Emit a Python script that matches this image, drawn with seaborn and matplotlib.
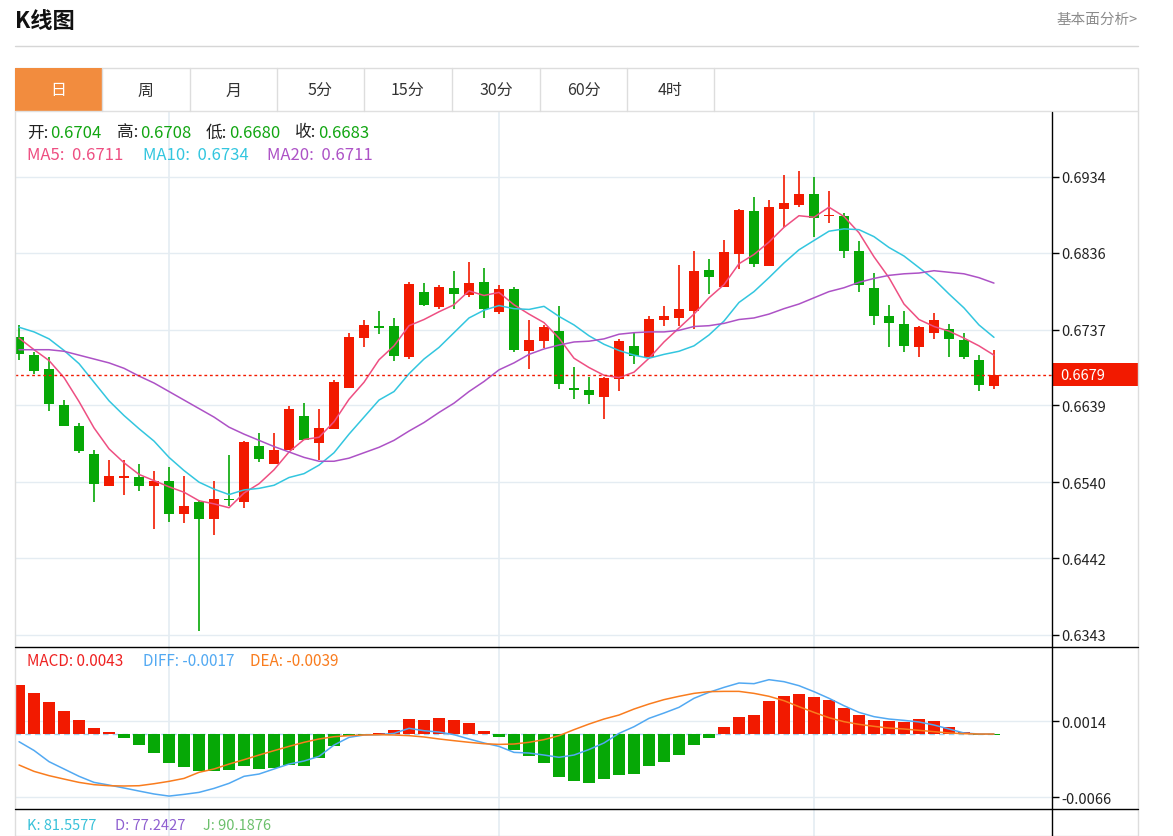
import numpy as np
import pandas as pd
import matplotlib
matplotlib.use("Agg")
import matplotlib.pyplot as plt
import matplotlib.transforms as mtransforms
from matplotlib.lines import Line2D
from matplotlib.patches import Rectangle
import seaborn as sns

# 日K数据
opens = [0.6727, 0.6704, 0.6686, 0.6640, 0.6613, 0.6576, 0.6535, 0.6545, 0.6547, 0.6535,
         0.6542, 0.6499, 0.6515, 0.6492, 0.6518, 0.6514, 0.6587, 0.6564, 0.6582, 0.6626,
         0.6591, 0.6608, 0.6661, 0.6726, 0.6742, 0.6741, 0.6701, 0.6786, 0.6766, 0.6791,
         0.6781, 0.6798, 0.6760, 0.6789, 0.6709, 0.6722, 0.6735, 0.6662, 0.6659, 0.6650,
         0.6673, 0.6716, 0.6701, 0.6749, 0.6752, 0.6761, 0.6814, 0.6792, 0.6835, 0.6890,
         0.6819, 0.6893, 0.6898, 0.6912, 0.6883, 0.6884, 0.6838, 0.6791, 0.6755, 0.6744,
         0.6714, 0.6733, 0.6738, 0.6724, 0.6698, 0.6664]
highs = [0.6743, 0.6708, 0.6701, 0.6646, 0.6616, 0.6582, 0.6569, 0.6568, 0.6563, 0.6555,
         0.6560, 0.6548, 0.6517, 0.6541, 0.6575, 0.6593, 0.6604, 0.6604, 0.6638, 0.6642,
         0.6634, 0.6672, 0.6733, 0.6749, 0.6761, 0.6752, 0.6798, 0.6797, 0.6795, 0.6813,
         0.6824, 0.6817, 0.6794, 0.6792, 0.6749, 0.6743, 0.6767, 0.6689, 0.6676, 0.6676,
         0.6725, 0.6732, 0.6754, 0.6768, 0.6821, 0.6838, 0.6828, 0.6853, 0.6893, 0.6908,
         0.6904, 0.6937, 0.6942, 0.6934, 0.6916, 0.6888, 0.6851, 0.6810, 0.6769, 0.6761,
         0.6742, 0.6759, 0.6744, 0.6732, 0.6704, 0.6710]
lows = [0.6698, 0.6680, 0.6632, 0.6612, 0.6578, 0.6514, 0.6535, 0.6524, 0.6529, 0.6480,
        0.6489, 0.6487, 0.6348, 0.6472, 0.6509, 0.6507, 0.6566, 0.6564, 0.6582, 0.6595,
        0.6568, 0.6608, 0.6661, 0.6714, 0.6731, 0.6697, 0.6699, 0.6767, 0.6763, 0.6764,
        0.6779, 0.6752, 0.6757, 0.6708, 0.6686, 0.6713, 0.6660, 0.6648, 0.6641, 0.6622,
        0.6658, 0.6693, 0.6701, 0.6742, 0.6742, 0.6738, 0.6783, 0.6792, 0.6815, 0.6818,
        0.6819, 0.6869, 0.6895, 0.6857, 0.6875, 0.6830, 0.6786, 0.6743, 0.6715, 0.6708,
        0.6701, 0.6725, 0.6702, 0.6699, 0.6658, 0.6660]
closes = [0.6705, 0.6683, 0.6641, 0.6613, 0.6580, 0.6537, 0.6548, 0.6548, 0.6535, 0.6542,
          0.6499, 0.6509, 0.6493, 0.6518, 0.6517, 0.6592, 0.6570, 0.6582, 0.6634, 0.6595,
          0.6610, 0.6669, 0.6728, 0.6743, 0.6739, 0.6703, 0.6796, 0.6769, 0.6792, 0.6783,
          0.6797, 0.6764, 0.6789, 0.6710, 0.6724, 0.6740, 0.6667, 0.6659, 0.6652, 0.6674,
          0.6722, 0.6703, 0.6751, 0.6755, 0.6764, 0.6813, 0.6805, 0.6837, 0.6892, 0.6822,
          0.6895, 0.6900, 0.6912, 0.6881, 0.6885, 0.6839, 0.6794, 0.6755, 0.6746, 0.6716,
          0.6740, 0.6749, 0.6725, 0.6702, 0.6665, 0.6679]

# 均线
ma5 = [0.6726, 0.6711, 0.6697, 0.6675, 0.6644, 0.6610, 0.6583, 0.6565, 0.6550, 0.6542,
       0.6534, 0.6527, 0.6516, 0.6512, 0.6507, 0.6526, 0.6538, 0.6556, 0.6579, 0.6595,
       0.6598, 0.6618, 0.6647, 0.6669, 0.6698, 0.6716, 0.6742, 0.6750, 0.6760, 0.6769,
       0.6787, 0.6781, 0.6785, 0.6769, 0.6757, 0.6746, 0.6726, 0.6700, 0.6688, 0.6678,
       0.6675, 0.6682, 0.6700, 0.6721, 0.6739, 0.6757, 0.6778, 0.6795, 0.6822, 0.6834,
       0.6850, 0.6869, 0.6884, 0.6882, 0.6895, 0.6883, 0.6862, 0.6831, 0.6804, 0.6770,
       0.6750, 0.6741, 0.6735, 0.6726, 0.6716, 0.6704]
ma10 = [0.6740, 0.6734, 0.6725, 0.6710, 0.6693, 0.6669, 0.6645, 0.6626, 0.6609, 0.6593,
        0.6572, 0.6555, 0.6540, 0.6531, 0.6524, 0.6530, 0.6532, 0.6536, 0.6546, 0.6551,
        0.6562, 0.6578, 0.6602, 0.6624, 0.6646, 0.6657, 0.6680, 0.6699, 0.6714, 0.6733,
        0.6752, 0.6762, 0.6768, 0.6764, 0.6763, 0.6767, 0.6754, 0.6743, 0.6729, 0.6718,
        0.6710, 0.6704, 0.6700, 0.6705, 0.6709, 0.6716, 0.6730, 0.6748, 0.6772, 0.6786,
        0.6804, 0.6823, 0.6840, 0.6852, 0.6864, 0.6867, 0.6866, 0.6857, 0.6843, 0.6832,
        0.6817, 0.6802, 0.6783, 0.6765, 0.6743, 0.6727]
ma20 = [0.6711, 0.6711, 0.6711, 0.6709, 0.6704, 0.6699, 0.6694, 0.6687, 0.6677, 0.6668,
        0.6657, 0.6646, 0.6635, 0.6624, 0.6611, 0.6602, 0.6594, 0.6586, 0.6579, 0.6572,
        0.6567, 0.6567, 0.6571, 0.6578, 0.6585, 0.6594, 0.6606, 0.6617, 0.6630, 0.6642,
        0.6657, 0.6670, 0.6685, 0.6694, 0.6705, 0.6712, 0.6717, 0.6721, 0.6722, 0.6725,
        0.6731, 0.6733, 0.6734, 0.6734, 0.6736, 0.6741, 0.6742, 0.6745, 0.6750, 0.6752,
        0.6757, 0.6764, 0.6770, 0.6778, 0.6786, 0.6791, 0.6798, 0.6803, 0.6807, 0.6809,
        0.6810, 0.6813, 0.6811, 0.6809, 0.6804, 0.6797]

# MACD
macd = [0.00519, 0.0043, 0.00337, 0.00245, 0.00147, 0.00063, 0.00027, -0.00036, -0.00116, -0.00197,
        -0.00302, -0.00344, -0.00389, -0.00383, -0.00376, -0.00330, -0.00368, -0.00355, -0.00324, -0.00337,
        -0.00253, -0.00127, -0.00015, -0.00011, 0.00011, 0.00045, 0.00161, 0.00151, 0.00172, 0.00151,
        0.00119, 0.00038, -0.00025, -0.00165, -0.00225, -0.00305, -0.00453, -0.00495, -0.00509, -0.00471,
        -0.00425, -0.00415, -0.00337, -0.00292, -0.00218, -0.00109, -0.00036, 0.00080, 0.00185, 0.00206,
        0.00354, 0.00403, 0.00427, 0.00396, 0.00364, 0.00277, 0.00200, 0.00154, 0.00143, 0.00129,
        0.00158, 0.00140, 0.00077, 0.00021, -0.00011, -0.00002]
diff = [-0.00078, -0.0017, -0.00288, -0.00365, -0.00442, -0.00506, -0.00534, -0.00565, -0.00597, -0.00628,
        -0.00650, -0.00632, -0.00611, -0.00569, -0.00516, -0.00442, -0.00418, -0.00365, -0.00313, -0.00281,
        -0.00232, -0.00113, -0.00032, -0.00007, -0.00004, 0.00010, 0.00063, 0.00038, 0.00024, -0.00004,
        -0.00049, -0.00091, -0.00127, -0.00190, -0.00197, -0.00218, -0.00242, -0.00218, -0.00160, -0.00091,
        0.00010, 0.00080, 0.00168, 0.00224, 0.00284, 0.00379, 0.00442, 0.00494, 0.00540, 0.00533,
        0.00575, 0.00554, 0.00512, 0.00449, 0.00379, 0.00301, 0.00231, 0.00186, 0.00161, 0.00147,
        0.00130, 0.00098, 0.00056, 0.00014, 0.00003, 0.00003]
dea = [-0.00323, -0.0039, -0.00435, -0.00471, -0.00506, -0.00530, -0.00541, -0.00544, -0.00541, -0.00520,
       -0.00495, -0.00464, -0.00400, -0.00365, -0.00313, -0.00267, -0.00218, -0.00172, -0.00127, -0.00084,
       -0.00049, -0.00025, -0.00014, -0.00007, -0.00004, -0.00007, -0.00014, -0.00028, -0.00049, -0.00067,
       -0.00084, -0.00099, -0.00106, -0.00102, -0.00084, -0.00056, -0.00014, 0.00049, 0.00108, 0.00161,
       0.00203, 0.00266, 0.00319, 0.00365, 0.00400, 0.00431, 0.00449, 0.00452, 0.00452, 0.00431,
       0.00400, 0.00354, 0.00291, 0.00231, 0.00175, 0.00133, 0.00105, 0.00084, 0.00066, 0.00056,
       0.00042, 0.00028, 0.00014, 0.00007, 0.00003, 0.00003]

price_ticks = [0.6343, 0.6442, 0.6540, 0.6639, 0.6737, 0.6836, 0.6934]
macd_ticks = [0.0014, -0.0066]
month_marks = [10, 32, 53]
tabs = ['日', '周', '月', '5分', '15分', '30分', '60分', '4时']

RED = '#f21a00'
GREEN = '#06a806'
GRID = '#e4ecf2'
C_MA5 = '#ee4f82'
C_MA10 = '#33c6df'
C_MA20 = '#ad52c6'
C_DIFF = '#52a9f2'
C_DEA = '#f97c1e'

df = pd.DataFrame({'open': opens, 'high': highs, 'low': lows, 'close': closes,
                   'ma5': ma5, 'ma10': ma10, 'ma20': ma20,
                   'macd': macd, 'diff': diff, 'dea': dea})
df['i'] = np.arange(len(df))

sns.set_theme(style="white")
plt.rcParams['font.family'] = ['Noto Sans CJK SC', 'DejaVu Sans']
plt.rcParams['axes.unicode_minus'] = False

W, H = 1173, 837
fig = plt.figure(figsize=(W / 100, H / 100), dpi=100)
fig.patch.set_facecolor('white')


def fx(x):
    return x / W


def fy(y):
    return 1 - y / H


def add_ax(x0, y0, x1, y1):
    ax = fig.add_axes([fx(x0), fy(y1), (x1 - x0) / W, (y1 - y0) / H])
    ax.set_facecolor('none')
    for s in ax.spines.values():
        s.set_visible(False)
    return ax


def fline(xs, ys, color, lw=1.0):
    fig.add_artist(Line2D([fx(v) for v in xs], [fy(v) for v in ys], color=color, lw=lw))


xlim = (-0.27, 68.87)

# ---- 标题 / 标签页 ----
fig.text(fx(15), fy(22), 'K线图', fontsize=16, fontweight='bold', color='#111111',
         ha='left', va='center')
fig.text(fx(1138), fy(20), '基本面分析>', fontsize=10.5, color='#8c8c8c', ha='right', va='center')
fline([15, 1138], [47, 47], '#d6d6d6')

fig.add_artist(Rectangle((fx(15), fy(837)), 1123 / W, (837 - 69) / H, transform=fig.transFigure,
                         fill=False, ec='#dddddd', lw=1))
fig.add_artist(Rectangle((fx(15), fy(112)), 87 / W, 43 / H, transform=fig.transFigure,
                         fc='#f28c3e', ec='none'))
fline([15, 1138], [112, 112], '#e0e0e0')
tab_edges = [15, 102, 190, 277, 364, 452, 540, 627, 714]
for e in tab_edges[1:]:
    fline([e, e], [69, 112], '#dddddd')
for k, t in enumerate(tabs):
    cx = (tab_edges[k] + tab_edges[k + 1]) / 2
    fig.text(fx(cx), fy(91), t, fontsize=11.5, ha='center', va='center',
             color='white' if k == 0 else '#333333')

# ---- K线 ----
ax = add_ax(15, 113, 1052, 648)
up = df['close'] >= df['open']
cols = np.where(up, RED, GREEN)
ax.vlines(df['i'], df['low'], df['high'], colors=cols, lw=1.2, zorder=2)
body_lo = np.minimum(df['open'], df['close'])
body_h = np.maximum((df['close'] - df['open']).abs(), 0.00016)
ax.bar(df['i'], body_h, bottom=body_lo, width=0.72, color=cols, linewidth=0, zorder=3)

sns.lineplot(data=df, x='i', y='ma5', ax=ax, color=C_MA5, lw=1.1, legend=False, zorder=4)
sns.lineplot(data=df, x='i', y='ma10', ax=ax, color=C_MA10, lw=1.1, legend=False, zorder=4)
sns.lineplot(data=df, x='i', y='ma20', ax=ax, color=C_MA20, lw=1.1, legend=False, zorder=4)

last = closes[-1]
ax.axhline(last, color=RED, lw=1, ls=(0, (2, 2)), zorder=5)
ax.set_xlim(*xlim)
ax.set_ylim(0.63272, 0.70179)
ax.set_yticks(price_ticks)
ax.set_yticklabels([f'{v:.4f}' for v in price_ticks])
ax.set_xticks([])
ax.set_xlabel('')
ax.set_ylabel('')
ax.grid(axis='y', color=GRID, lw=1)
for m in month_marks:
    ax.axvline(m, color=GRID, lw=1.2, zorder=0)
ax.tick_params(axis='y', left=False, right=True, labelleft=False, labelright=True,
               length=5, width=1, color='black', pad=2, labelsize=10.5, labelcolor='#222222')

blend = mtransforms.blended_transform_factory(ax.transAxes, ax.transData)
ax.add_patch(Rectangle((1.0, last - 0.00148), 86 / 1037, 0.00297, transform=blend,
                       fc=RED, ec='none', clip_on=False, zorder=6))
ax.text(1 + 8 / 1037, last, f'{last:.4f}', transform=blend, color='white', fontsize=10.5,
        va='center', ha='left', zorder=7)

# 信息栏
for x, s, c in [(27, '开:', '#222222'), (50, f'{opens[1]:.4f}', '#12a612'),
                (117, '高:', '#222222'), (140, f'{highs[1]:.4f}', '#12a612'),
                (206, '低:', '#222222'), (229, f'{lows[1]:.4f}', '#12a612'),
                (295, '收:', '#222222'), (318, f'{closes[1]:.4f}', '#12a612')]:
    fig.text(fx(x), fy(133), s, color=c, fontsize=12, ha='left', va='center')
for x, s, c in [(27, f'MA5:  {ma5[1]:.4f}', C_MA5), (143, f'MA10:  {ma10[1]:.4f}', C_MA10),
                (267, f'MA20:  {ma20[1]:.4f}', C_MA20)]:
    fig.text(fx(x), fy(156), s, color=c, fontsize=12, ha='left', va='center')

# ---- MACD ----
ax2 = add_ax(15, 648, 1052, 810)
ax2.bar(df['i'], df['macd'], width=0.75, color=np.where(df['macd'] >= 0, RED, GREEN),
        linewidth=0, zorder=3)
ax2.hlines(0, xlim[0], len(df) - 1, color='#9fd2ee', lw=1, ls=(0, (4, 3)), zorder=2)
sns.lineplot(data=df, x='i', y='diff', ax=ax2, color=C_DIFF, lw=1.1, legend=False, zorder=4)
sns.lineplot(data=df, x='i', y='dea', ax=ax2, color=C_DEA, lw=1.1, legend=False, zorder=4)
ax2.set_xlim(*xlim)
ax2.set_ylim(-0.00786, 0.00919)
ax2.set_yticks(macd_ticks)
ax2.set_yticklabels([f'{v:.4f}' for v in macd_ticks])
ax2.set_xticks([])
ax2.set_xlabel('')
ax2.set_ylabel('')
ax2.grid(axis='y', color=GRID, lw=1)
for m in month_marks:
    ax2.axvline(m, color=GRID, lw=1.2, zorder=0)
ax2.tick_params(axis='y', left=False, right=True, labelleft=False, labelright=True,
                length=5, width=1, color='black', pad=2, labelsize=10.5, labelcolor='#222222')
for x, s, c in [(27, f'MACD: {macd[1]:.4f}', '#ee2222'), (143, f'DIFF: {diff[1]:.4f}', C_DIFF),
                (250, f'DEA: {dea[1]:.4f}', C_DEA)]:
    fig.text(fx(x), fy(662), s, color=c, fontsize=11, ha='left', va='center')

# ---- KDJ ----
ax3 = add_ax(15, 810, 1052, 837)
ax3.set_xlim(*xlim)
ax3.set_ylim(0, 1)
ax3.set_xticks([])
ax3.set_yticks([])
for m in month_marks:
    ax3.axvline(m, color=GRID, lw=1.2, zorder=0)
for x, s, c in [(27, 'K: 81.5577', '#38c1d9'), (115, 'D: 77.2427', '#8e5fd0'),
                (203, 'J: 90.1876', '#6cc06c')]:
    fig.text(fx(x), fy(826), s, color=c, fontsize=10.5, ha='left', va='center')

# 分隔线
fline([15, 1138], [648, 648], 'black')
fline([15, 1138], [810, 810], 'black')
fline([1052, 1052], [113, 837], 'black')

fig.savefig('out.png', dpi=100)
